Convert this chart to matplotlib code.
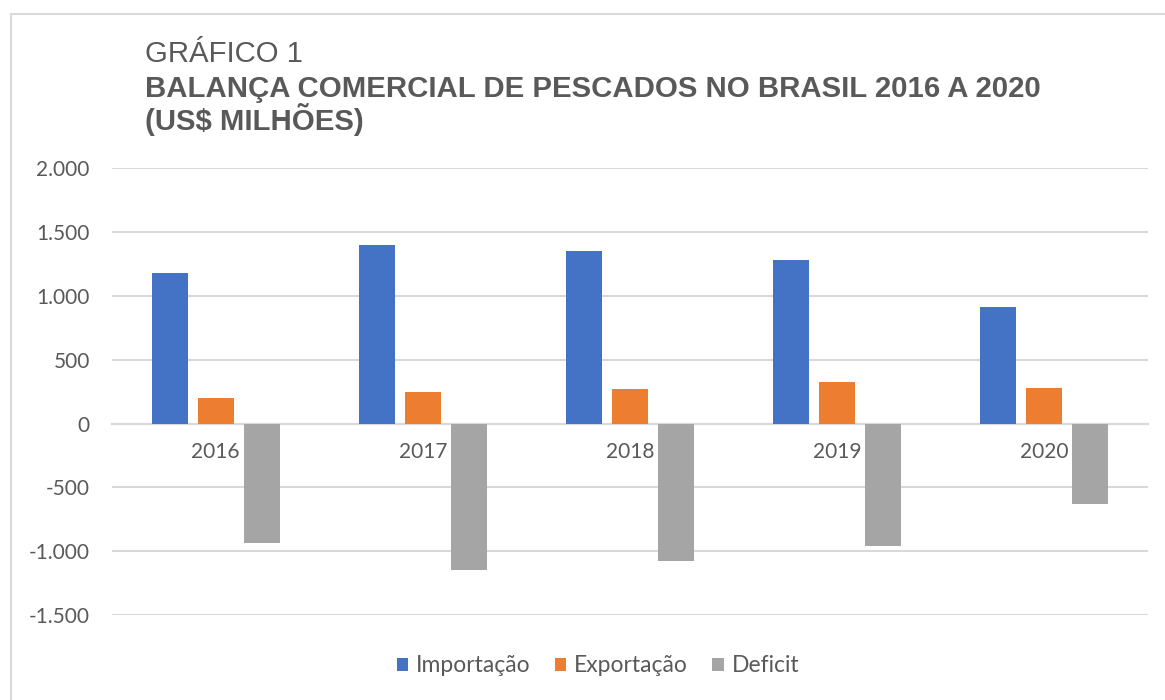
import matplotlib.pyplot as plt
import matplotlib.patches as mpatches
import numpy as np

# Dados (US$ milhões)
anos = ['2016', '2017', '2018', '2019', '2020']
importacao = [1178, 1396, 1352, 1284, 911]
exportacao = [201, 248, 268, 323, 279]
deficit = [-936, -1144, -1080, -959, -629]

series = ['Importação', 'Exportação', 'Deficit']
cores = ['#4472C4', '#ED7D31', '#A5A5A5']
yticks = [-1500, -1000, -500, 0, 500, 1000, 1500, 2000]
ytick_labels = ['-1.500', '-1.000', '-500', '0', '500', '1.000', '1.500', '2.000']

W, H = 1165, 700
fig = plt.figure(figsize=(W / 100, H / 100), dpi=100)
ax = fig.add_axes([112 / W, 1 - 615 / H, (1148 - 112) / W, (615 - 168.3) / H])

# BARRAS
x = np.arange(len(anos))
passo = 0.222
largura = 0.174
for i, (valores, nome, cor) in enumerate(zip([importacao, exportacao, deficit], series, cores)):
    ax.bar(x + (i - 1) * passo, valores, largura, color=cor, label=nome, zorder=3)

# EIXOS
cinza_txt = '#595959'
ax.set_xlim(-0.5, len(anos) - 0.5)
ax.set_ylim(-1500, 2000)
ax.set_yticks(yticks)
ax.set_yticklabels(ytick_labels)
ax.set_xticks(x)
ax.set_xticklabels(anos)
ax.grid(axis='y', color='#d9d9d9', linewidth=1.5, zorder=0)
for s in ['top', 'right', 'left']:
    ax.spines[s].set_visible(False)
ax.spines['bottom'].set_position(('data', 0))
ax.spines['bottom'].set_color('#d9d9d9')
ax.spines['bottom'].set_linewidth(1.5)
ax.tick_params(axis='y', length=0, pad=16, labelsize=15, labelcolor=cinza_txt)
ax.tick_params(axis='x', length=0, pad=13, labelsize=15, labelcolor=cinza_txt)
for lbl in ax.get_xticklabels() + ax.get_yticklabels():
    lbl.set_family('Lato')

# TÍTULO
fig.text(145 / W, 1 - 62 / H, 'GRÁFICO 1', family='Liberation Sans', fontsize=21.2,
         color=cinza_txt, va='baseline')
fig.text(145 / W, 1 - 97 / H, 'BALANÇA COMERCIAL DE PESCADOS NO BRASIL 2016 A 2020',
         family='Liberation Sans', fontsize=21.2, fontweight='bold', color=cinza_txt, va='baseline')
fig.text(145 / W, 1 - 130 / H, '(US$ MILHÕES)', family='Liberation Sans', fontsize=21.2,
         fontweight='bold', color=cinza_txt, va='baseline')

# BORDA
borda = mpatches.Rectangle((10.5 / W, -0.1), 1.2, 1 - 14 / H + 0.1, transform=fig.transFigure,
                           fill=False, edgecolor='#d9d9d9', linewidth=1.5)
fig.patches.append(borda)

# LEGENDA
fig.legend(loc='center', bbox_to_anchor=(598 / W, 1 - 666 / H), ncol=3, frameon=False,
           handlelength=0.5, handleheight=0.5, handletextpad=0.35, columnspacing=1.05,
           prop={'family': 'Lato', 'size': 16.5}, labelcolor=cinza_txt)

fig.savefig('out.png', dpi=100, facecolor='white')
